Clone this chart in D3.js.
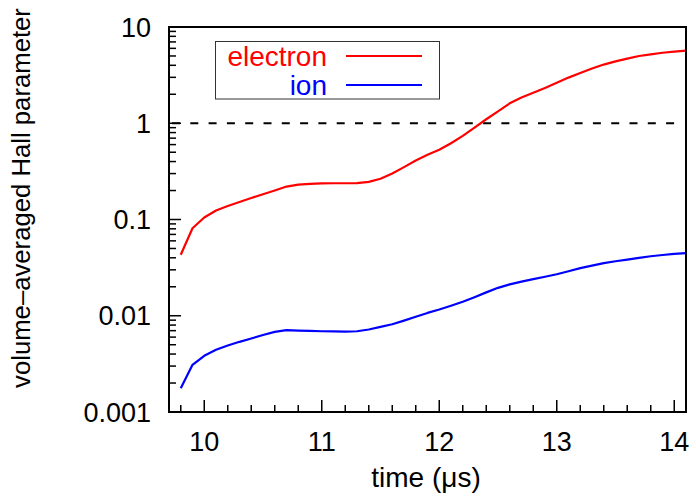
<!DOCTYPE html>
<html>
<head>
<meta charset="utf-8">
<script src="https://cdn.jsdelivr.net/npm/d3@7"></script>
<style>
  html, body { margin: 0; padding: 0; background: #fff; }
  svg { display: block; font-family: "Liberation Sans", Arial, Helvetica, sans-serif; }
</style>
</head>
<body>
<svg id="chart" width="696" height="500"></svg>
<script>
const time = [9.8, 9.9, 10.0, 10.1, 10.2, 10.3, 10.4, 10.5, 10.6, 10.7, 10.8, 10.9, 11.0, 11.1, 11.2, 11.3, 11.4, 11.5, 11.6, 11.7, 11.8, 11.9, 12.0, 12.1, 12.2, 12.3, 12.4, 12.5, 12.6, 12.7, 12.8, 12.9, 13.0, 13.1, 13.2, 13.3, 13.4, 13.5, 13.6, 13.7, 13.8, 13.9, 14.0, 14.1];
const electron = [0.043, 0.081, 0.105, 0.124, 0.138, 0.152, 0.167, 0.183, 0.200, 0.220, 0.230, 0.235, 0.237, 0.238, 0.238, 0.239, 0.246, 0.265, 0.30, 0.35, 0.41, 0.47, 0.53, 0.62, 0.74, 0.90, 1.10, 1.33, 1.61, 1.85, 2.07, 2.33, 2.64, 2.98, 3.32, 3.70, 4.07, 4.40, 4.70, 5.0, 5.2, 5.4, 5.55, 5.68];
const ion = [0.00177, 0.00309, 0.00384, 0.00443, 0.00490, 0.00536, 0.00580, 0.00630, 0.00680, 0.00708, 0.00700, 0.00695, 0.00690, 0.00688, 0.00685, 0.00690, 0.00720, 0.00765, 0.00815, 0.00890, 0.00975, 0.0107, 0.0116, 0.0127, 0.0140, 0.0156, 0.0175, 0.0195, 0.0212, 0.0226, 0.0240, 0.0254, 0.0270, 0.0290, 0.0312, 0.0332, 0.0352, 0.0368, 0.0383, 0.0400, 0.0415, 0.0428, 0.0440, 0.0447];
const xTickValues = [10, 11, 12, 13, 14];
const xTickLabels = ["10", "11", "12", "13", "14"];
const yTickValues = [10, 1, 0.1, 0.01, 0.001];
const yTickLabels = ["10", "1", "0.1", "0.01", "0.001"];
const seriesNames = ["electron", "ion"];
const seriesColors = ["#ff0000", "#0000ff"];
const referenceLevel = 1;

const FS = 27;
const L = 169, R = 686, T = 27, B = 412;
const svg = d3.select("#chart");
const x = d3.scaleLinear().domain([9.7, 14.1]).range([L, R]);
const y = d3.scaleLog().domain([0.001, 10]).range([B, T]);

svg.append("defs").append("clipPath").attr("id", "clip")
  .append("rect").attr("x", L).attr("y", T).attr("width", R - L).attr("height", B - T);

// x ticks (inward)
const xMinor = d3.range(9.8, 14.05, 0.2).map(v => +v.toFixed(1));
svg.append("g").selectAll("line").data(xMinor).join("line")
  .attr("x1", d => x(d)).attr("x2", d => x(d))
  .attr("y1", B).attr("y2", d => xTickValues.some(t => Math.abs(t - d) < 1e-6) ? B - 12 : B - 7)
  .attr("stroke", "#000").attr("stroke-width", 1.5);

svg.append("g").selectAll("text").data(xTickValues).join("text")
  .attr("x", d => x(d)).attr("y", 451)
  .attr("text-anchor", "middle").attr("font-size", FS).attr("fill", "#000")
  .text((d, i) => xTickLabels[i]);

// y ticks (inward)
const yMinor = [];
for (let e = -3; e < 1; e++) for (let m = 1; m <= 9; m++) yMinor.push(m * Math.pow(10, e));
yMinor.push(10);
svg.append("g").selectAll("line").data(yMinor).join("line")
  .attr("x1", L).attr("x2", d => yTickValues.some(t => Math.abs(t / d - 1) < 1e-6) ? L + 12 : L + 7)
  .attr("y1", d => y(d)).attr("y2", d => y(d))
  .attr("stroke", "#000").attr("stroke-width", 1.5);

svg.append("g").selectAll("text").data(yTickValues).join("text")
  .attr("x", 151).attr("y", d => y(d) + 9.5)
  .attr("text-anchor", "end").attr("font-size", FS).attr("fill", "#000")
  .text((d, i) => yTickLabels[i]);

// reference dashed line
svg.append("line")
  .attr("x1", x(9.7) + 3).attr("x2", x(14.0) + 1)
  .attr("y1", y(referenceLevel)).attr("y2", y(referenceLevel))
  .attr("stroke", "#000").attr("stroke-width", 2)
  .attr("stroke-dasharray", "8,10.3");

// series
const line = d3.line().x(d => x(d[0])).y(d => y(d[1])).curve(d3.curveLinear);
[electron, ion].forEach((vals, i) => {
  svg.append("path")
    .datum(time.map((t, j) => [t, vals[j]]))
    .attr("d", line)
    .attr("clip-path", "url(#clip)")
    .attr("fill", "none")
    .attr("stroke", seriesColors[i])
    .attr("stroke-width", 2.2)
    .attr("stroke-linejoin", "round");
});

// frame
svg.append("rect").attr("x", L).attr("y", T).attr("width", R - L).attr("height", B - T)
  .attr("fill", "none").attr("stroke", "#000").attr("stroke-width", 2);

// legend
const lg = svg.append("g");
lg.append("rect").attr("x", 215.5).attr("y", 41.5).attr("width", 224).attr("height", 57.5)
  .attr("fill", "#fff").attr("stroke", "#333").attr("stroke-width", 1);
seriesNames.forEach((name, i) => {
  const cy = 56 + i * 29;
  lg.append("text").attr("x", 327).attr("y", cy + 10)
    .attr("text-anchor", "end").attr("font-size", 28).attr("fill", seriesColors[i])
    .text(name);
  lg.append("line").attr("x1", 346).attr("x2", 422).attr("y1", cy).attr("y2", cy)
    .attr("stroke", seriesColors[i]).attr("stroke-width", 2.2);
});

// axis titles
svg.append("text").attr("x", 426).attr("y", 487)
  .attr("text-anchor", "middle").attr("font-size", 28).attr("fill", "#000")
  .text("time (μs)");
svg.append("text")
  .attr("transform", "translate(30,198) rotate(-90)")
  .attr("text-anchor", "middle").attr("font-size", 25.7).attr("fill", "#000")
  .text("volume–averaged Hall parameter");
</script>
</body>
</html>
